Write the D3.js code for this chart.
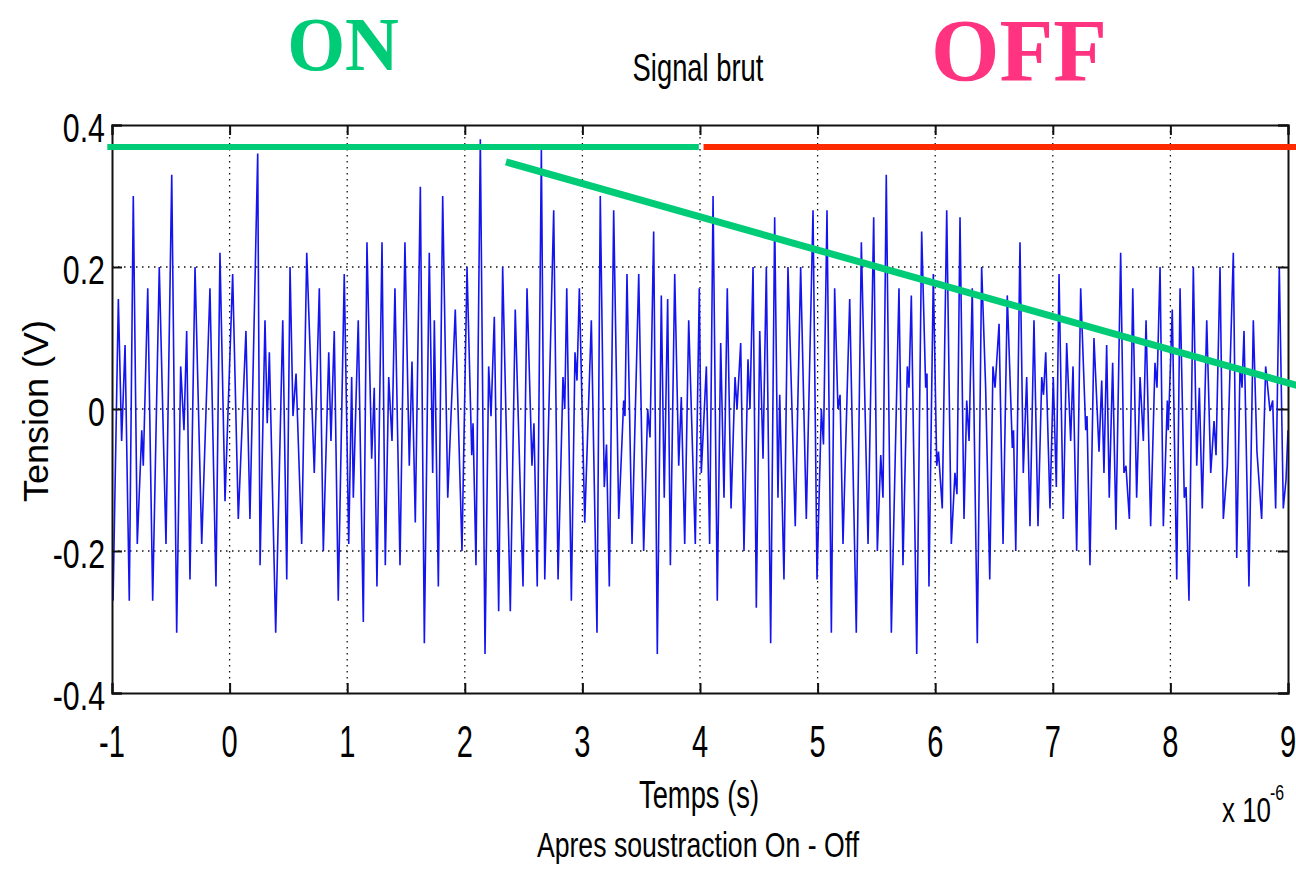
<!DOCTYPE html>
<html><head><meta charset="utf-8">
<script src="https://cdn.jsdelivr.net/npm/d3@7"></script>
<style>html,body{margin:0;padding:0;background:#fff}svg{display:block}</style>
</head><body>
<script>
// ---- data (time in microseconds, tension in volts) ----
const signal = [
[-0.991,-0.27],[-0.946,0.155],[-0.918,-0.045],[-0.889,0.09],[-0.853,-0.27],[-0.819,0.30],[-0.785,-0.19],[-0.747,-0.03],[-0.734,-0.08],[-0.696,0.17],[-0.654,-0.27],[-0.598,0.2],[-0.541,-0.19],[-0.492,0.33],[-0.450,-0.315],[-0.416,0.06],[-0.388,-0.03],[-0.365,0.11],[-0.337,-0.24],[-0.294,0.2],[-0.237,-0.19],[-0.167,0.17],[-0.116,-0.25],[-0.082,0.22],[-0.039,-0.13],[0.026,0.19],[0.074,-0.155],[0.139,0.11],[0.173,-0.155],[0.239,0.36],[0.259,-0.22],[0.301,0.125],[0.320,-0.02],[0.338,0.08],[0.392,-0.315],[0.452,0.125],[0.486,-0.24],[0.514,0.2],[0.539,-0.01],[0.565,0.05],[0.613,-0.19],[0.656,0.22],
[0.720,-0.09],[0.763,0.17],[0.797,-0.2],[0.843,0.08],[0.862,-0.045],[0.890,0.11],[0.924,-0.27],[0.975,0.19],[1.013,-0.19],[1.038,0.045],[1.052,-0.125],[1.094,0.125],[1.137,-0.3],[1.168,0.235],[1.208,-0.07],[1.230,0.03],[1.253,-0.25],[1.296,0.235],[1.324,-0.22],[1.353,0.045],[1.381,-0.045],[1.406,0.17],[1.449,-0.22],[1.491,0.235],[1.528,-0.08],[1.551,0.067],[1.579,-0.16],[1.622,0.313],[1.656,-0.33],[1.698,0.22],[1.727,-0.09],[1.741,0.125],[1.775,-0.25],[1.812,0.3],[1.855,-0.125],[1.919,0.14],[1.976,-0.2],[2.019,0.2],[2.059,-0.065],[2.070,-0.02],[2.095,-0.22],[2.132,0.38],[2.172,-0.345],[2.203,0.06],[2.223,-0.01],[2.251,0.13],[2.288,-0.285],[2.322,0.2],
[2.387,-0.285],[2.429,0.14],[2.495,-0.25],[2.529,0.17],[2.571,-0.08],[2.588,-0.02],[2.616,-0.25],[2.651,0.365],[2.680,-0.24],[2.756,0.28],[2.793,-0.24],[2.835,0.045],[2.850,0.0],[2.867,0.17],[2.906,-0.27],[2.937,0.08],[2.954,0.04],[2.974,0.17],[3.020,-0.16],[3.076,0.125],[3.124,-0.315],[3.152,0.3],[3.186,-0.11],[3.205,-0.05],[3.229,-0.25],[3.266,0.28],[3.309,-0.155],[3.351,0.012],[3.362,-0.01],[3.379,0.19],[3.422,-0.19],[3.479,0.19],[3.521,-0.2],[3.555,0.0],[3.575,-0.04],[3.606,0.25],[3.637,-0.345],[3.671,0.16],[3.696,-0.125],[3.725,0.155],[3.748,-0.22],[3.785,0.19],[3.819,-0.08],[3.841,0.017],[3.870,-0.19],[3.904,0.125],[3.960,-0.19],[3.994,0.17],
[4.011,-0.09],[4.054,0.06],[4.082,-0.19],[4.111,0.3],[4.147,-0.27],[4.176,0.093],[4.204,-0.125],[4.232,0.17],[4.264,-0.14],[4.298,0.045],[4.315,0.0],[4.346,0.093],[4.374,-0.2],[4.408,0.07],[4.425,0.0],[4.451,0.2],[4.479,-0.28],[4.508,0.11],[4.536,-0.07],[4.564,0.2],[4.601,-0.33],[4.635,0.27],[4.663,-0.125],[4.678,0.02],[4.714,-0.24],[4.748,0.2],[4.810,-0.165],[4.856,0.2],[4.904,-0.155],[4.961,0.28],[4.995,-0.24],[5.032,0.0],[5.050,-0.05],[5.080,0.28],[5.117,-0.315],[5.145,0.17],[5.173,0.0],[5.191,0.02],[5.216,-0.19],[5.273,0.155],[5.329,-0.315],[5.372,0.235],[5.429,-0.19],[5.477,0.27],[5.508,-0.2],[5.537,-0.065],[5.556,-0.125],[5.584,0.33],[5.627,-0.315],
[5.692,0.17],[5.726,-0.22],[5.763,0.06],[5.777,0.03],[5.797,0.16],[5.843,-0.345],[5.885,0.25],[5.919,0.03],[5.930,0.05],[5.947,-0.25],[5.984,0.19],[6.013,-0.08],[6.028,-0.06],[6.060,-0.14],[6.098,0.28],[6.137,-0.19],[6.168,-0.09],[6.185,-0.12],[6.211,0.27],[6.245,-0.155],[6.268,0.012],[6.288,-0.045],[6.315,0.17],[6.358,-0.33],[6.395,0.2],[6.429,0.03],[6.464,-0.24],[6.491,0.06],[6.509,0.03],[6.543,0.12],[6.577,-0.19],[6.613,0.16],[6.656,-0.055],[6.666,-0.03],[6.685,-0.2],[6.721,0.235],[6.749,-0.09],[6.778,0.045],[6.806,-0.165],[6.840,0.125],[6.874,-0.165],[6.906,0.045],[6.921,0.02],[6.940,0.08],[6.976,-0.14],[7.004,0.045],[7.030,-0.11],[7.053,0.19],[7.089,-0.155],[7.118,0.093],[7.152,-0.045],[7.172,0.06],[7.203,-0.2],[7.237,0.17],[7.280,-0.03],[7.291,-0.01],[7.316,-0.22],
[7.350,0.1],[7.393,-0.06],[7.416,0.04],[7.435,-0.09],[7.458,0.09],[7.480,-0.125],[7.509,0.065],[7.537,-0.17],[7.577,0.22],[7.605,-0.09],[7.622,-0.08],[7.651,-0.155],[7.680,0.17],[7.713,-0.125],[7.742,0.045],[7.770,-0.045],[7.793,0.125],[7.832,-0.165],[7.869,0.065],[7.886,0.03],[7.912,0.2],[7.940,-0.165],[7.974,0.012],[7.982,-0.03],[8.016,0.14],[8.054,-0.24],[8.082,0.17],[8.118,-0.125],[8.133,-0.11],[8.158,-0.27],[8.195,0.2],[8.224,-0.08],[8.246,0.03],[8.271,-0.14],[8.309,0.125],[8.343,-0.09],[8.371,-0.017],[8.388,-0.065],[8.422,0.2],[8.450,-0.155],[8.484,-0.08],[8.535,0.22],[8.564,-0.21],[8.592,0.06],[8.609,0.03],[8.626,0.11],[8.668,-0.25],[8.705,0.125],[8.736,-0.06],[8.776,-0.155],[8.810,0.06],[8.847,-0.003],[8.870,0.012],[8.895,-0.14],[8.926,0.2],[8.960,-0.14],[8.983,-0.1],[9.0,-0.03]
];
const xTicks = [-1,0,1,2,3,4,5,6,7,8,9];
const yTicks = [-0.4,-0.2,0,0.2,0.4];
const xDomain = [-1, 9];
const yDomain = [-0.4, 0.4];
// annotation lines (data coordinates)
const onLine = [[-1.04,0.369],[3.99,0.369]];
const offLine = [[4.03,0.369],[9.1,0.369]];
const trendLine = [[2.35,0.348],[9.1,0.032]];
const texts = {title:"Signal brut", xlabel:"Temps (s)", ylabel:"Tension (V)", sub:"Apres soustraction On - Off", on:"ON", off:"OFF"};

// ---- drawing ----
const W = 1296, H = 869;
const L = 112, R = 1288, T = 125, B = 693;
const svg = d3.select("body").append("svg").attr("width", W).attr("height", H);
const x = d3.scaleLinear().domain(xDomain).range([L, R]);
const y = d3.scaleLinear().domain(yDomain).range([B, T]);
const SANS = "'Liberation Sans', Arial, Helvetica, sans-serif";
const SERIF = "'Liberation Serif', 'Times New Roman', serif";

function txt(px, py, str, fs, sx, anchor, opts={}) {
  return svg.append("text")
    .attr("transform", `translate(${px},${py}) ${opts.rot?`rotate(${opts.rot})`:""} scale(${opts.rot?1:sx},${opts.rot?sx:1})`)
    .attr("text-anchor", anchor)
    .attr("font-family", opts.family || SANS)
    .attr("font-weight", opts.weight || "normal")
    .attr("font-size", fs)
    .attr("fill", opts.fill || "#000")
    .text(str);
}

// grid
const grid = svg.append("g").attr("stroke", "#111").attr("stroke-width", 1.3).attr("stroke-dasharray", "1.5,4.5");
xTicks.slice(1, -1).forEach(t => grid.append("line").attr("x1", x(t)).attr("x2", x(t)).attr("y1", T).attr("y2", B));
yTicks.slice(1, -1).forEach(v => grid.append("line").attr("x1", L).attr("x2", R).attr("y1", y(v)).attr("y2", y(v)));

// signal
svg.append("clipPath").attr("id", "clip").append("rect").attr("x", L).attr("y", T).attr("width", R - L).attr("height", B - T);
const line = d3.line().x(d => x(d[0])).y(d => y(d[1]));
svg.append("path").datum(signal).attr("clip-path", "url(#clip)")
  .attr("d", line).attr("fill", "none").attr("stroke", "#1414ee").attr("stroke-width", 1.6).attr("stroke-linejoin", "miter");

// axes (MATLAB box, inward ticks)
const axB = svg.append("g").attr("transform", `translate(0,${B})`).call(d3.axisTop(x).tickValues(xTicks).tickSize(10).tickFormat(""));
const axT = svg.append("g").attr("transform", `translate(0,${T})`).call(d3.axisBottom(x).tickValues(xTicks).tickSize(10).tickFormat(""));
const axL = svg.append("g").attr("transform", `translate(${L},0)`).call(d3.axisRight(y).tickValues(yTicks).tickSize(10).tickFormat(""));
const axR = svg.append("g").attr("transform", `translate(${R},0)`).call(d3.axisLeft(y).tickValues(yTicks).tickSize(10).tickFormat(""));
[axB, axT, axL, axR].forEach(a => { a.select(".domain").attr("stroke", "#111").attr("stroke-width", 2); a.selectAll(".tick line").attr("stroke", "#111").attr("stroke-width", 2); });

// tick labels
xTicks.forEach(t => txt(x(t), 757, String(t), 44, 0.66, "middle"));
yTicks.forEach(v => txt(105, y(v) + 17, d3.format("")(v).replace("−","-"), 41, 0.74, "end"));

// titles
txt(698, 81, texts.title, 38, 0.72, "middle");
txt(699, 808, texts.xlabel, 38, 0.72, "middle");
txt(698, 857, texts.sub, 36, 0.74, "middle");
txt(1222, 822, "x 10", 36, 0.72, "start");
txt(1270, 800, "-6", 22, 0.72, "start");
txt(48, 411, texts.ylabel, 36, 0.95, "middle", {rot: -90});

// annotations
const ann = d3.line().x(d => x(d[0])).y(d => y(d[1]));
svg.append("path").datum(onLine).attr("d", ann).attr("stroke", "#00cc77").attr("stroke-width", 6).attr("fill", "none");
svg.append("path").datum(offLine).attr("d", ann).attr("stroke", "#ff2a00").attr("stroke-width", 6).attr("fill", "none");
svg.append("path").datum(trendLine).attr("d", ann).attr("stroke", "#00cc77").attr("stroke-width", 7).attr("fill", "none");
txt(343, 70, texts.on, 76, 0.98, "middle", {family: SERIF, weight: "bold", fill: "#00cc77"});
txt(1019, 80, texts.off, 88, 1.0, "middle", {family: SERIF, weight: "bold", fill: "#ff3380"});
</script>
</body></html>
